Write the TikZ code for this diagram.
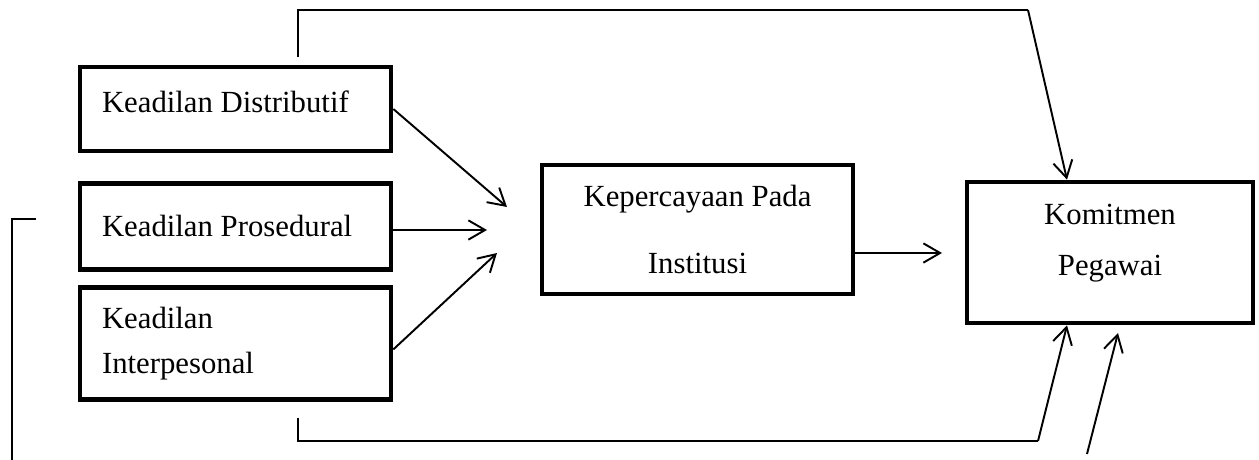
\documentclass[tikz,border=0pt]{standalone}
\usepackage{fontspec}
\setmainfont{Liberation Serif}
\usetikzlibrary{arrows.meta,positioning,calc}

\begin{document}
\begin{tikzpicture}
[x=0.02cm,y=-0.02cm,
varbox/.style={draw=black,line width=2.7pt,inner xsep=0.44cm,inner ysep=0pt,
  font=\fontsize{17.5pt}{25.6pt}\selectfont},
leftbox/.style={varbox,text width=5.34cm,align=flush left},
midbox/.style={varbox,align=center},
myedge/.style={line width=0.9pt},
dedge/.style={line width=1.1pt,-{Straight Barb[length=9.5pt,width=11pt,line width=1.1pt]}}]

\useasboundingbox (0,0) rectangle (1259,460);

\node (kd) [leftbox,minimum height=1.68cm,text depth=0.3cm] at (235.5,109) {Keadilan Distributif};
\node (kp) [leftbox,minimum height=1.72cm,below=0.55cm of kd] {Keadilan Prosedural};
\node (ki) [leftbox,minimum height=2.24cm,below=0.27cm of kp] {Keadilan\\Interpesonal};
\node (kpi) [midbox,minimum width=6.22cm,minimum height=2.58cm,
  font=\fontsize{17.5pt}{38.1pt}\selectfont] at (697.5,229.5) {Kepercayaan Pada\\Institusi};
\node (kom) [midbox,minimum width=5.72cm,minimum height=2.82cm,text depth=0.5cm,
  font=\fontsize{17.5pt}{29pt}\selectfont] at (1110,252.5) {Komitmen\\Pegawai};

% arrow ends
\coordinate (t1) at (507,207);
\coordinate (t2) at (487,230);
\coordinate (t3) at (497,253);
\coordinate (t4) at (942,253);
\coordinate (t5) at (1118,333);
\coordinate (c1) at (298,57);
\coordinate (c2) at (1028,10);
\coordinate (c4) at (298,418);
\coordinate (c5) at (1038,441);
\coordinate (c6) at (1087,454);
\coordinate (b1) at (36,219);
\coordinate (b2) at (12,460);

\draw[dedge] (kd.east) -- (t1);
\draw[dedge] (kp.east |- t2) -- (t2);
\draw[dedge] ([yshift=-3.4pt]ki.east) -- (t3);
\draw[dedge] (kpi.east |- t4) -- (t4);

\draw[myedge] (c1) |- (c2);
\draw[dedge] (c2) -- ($(kom.north)+(-43,0)$);
\draw[myedge] (c4) |- (c5);
\draw[dedge] (c5) -- ($(kom.south)+(-43,0)$);
\draw[dedge] (c6) -- (t5);
\draw[myedge] (b1) -| (b2);

\end{tikzpicture}
\end{document}
